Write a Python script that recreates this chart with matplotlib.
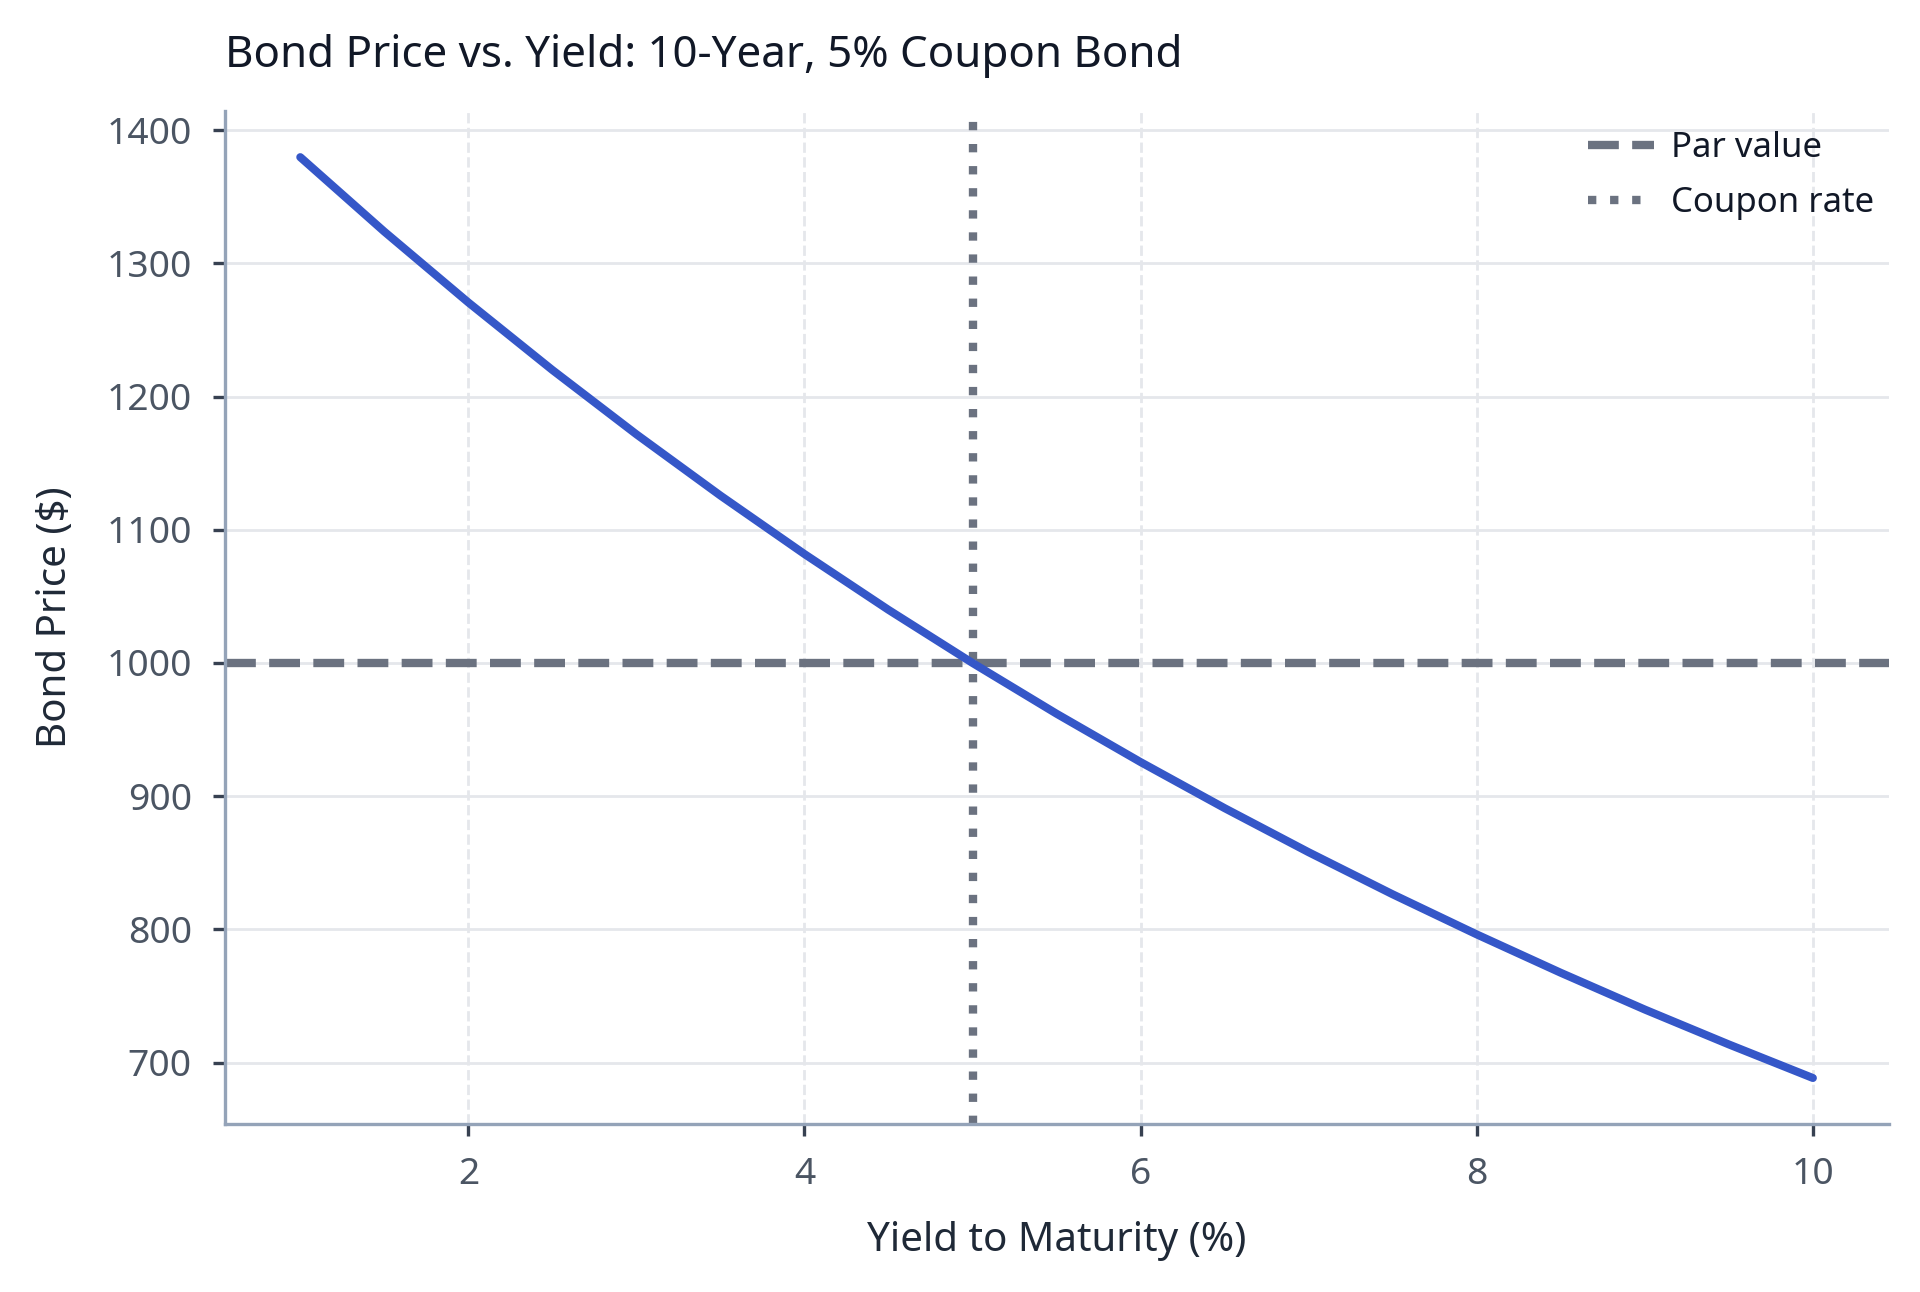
import matplotlib
matplotlib.use("Agg")
import matplotlib.pyplot as plt

plt.rcParams['font.family'] = ['Noto Sans', 'DejaVu Sans']

# Yield to maturity (%) and bond price ($)
yields = [1.0, 1.5, 2.0, 2.5, 3.0, 3.5, 4.0, 4.5, 5.0, 5.5,
          6.0, 6.5, 7.0, 7.5, 8.0, 8.5, 9.0, 9.5, 10.0]
prices = [1379.8, 1323.9, 1270.7, 1220.0, 1171.7, 1125.7, 1081.8, 1039.9, 1000.0, 961.9,
          925.6, 891.0, 857.9, 826.3, 796.2, 767.4, 739.8, 713.6, 688.4]
par_value = 1000
coupon_rate = 5

fig = plt.figure(figsize=(9.6, 6.46), dpi=200)
ax = fig.add_axes([0.117, 0.130, 0.8666, 0.784])

ax.plot(yields, prices, color='#3557c8', lw=2.9, solid_capstyle='round', zorder=3)
ax.axhline(par_value, color='#6b7280', lw=3, ls='--', label='Par value', zorder=2)
ax.axvline(coupon_rate, color='#6b7280', lw=3, ls=':', label='Coupon rate', zorder=2)

ax.grid(axis='y', color='#e5e7eb', lw=1, ls='-')
ax.grid(axis='x', color='#e5e7eb', lw=1, ls='--')
ax.set_axisbelow(True)

for s in ['top', 'right']:
    ax.spines[s].set_visible(False)
for s in ['left', 'bottom']:
    ax.spines[s].set_color('#94a3b8')
    ax.spines[s].set_linewidth(1.2)

ax.tick_params(colors='#374151', labelcolor='#4b5563', labelsize=13.4,
               length=4.3, width=1.2, pad=7.5)
ax.set_xticks([2, 4, 6, 8, 10])
ax.set_yticks([700, 800, 900, 1000, 1100, 1200, 1300, 1400])

ax.set_xlabel('Yield to Maturity (%)', fontsize=14.5, color='#1f2937', labelpad=10)
ax.set_ylabel('Bond Price ($)', fontsize=14.5, color='#1f2937', labelpad=11)
ax.set_title('Bond Price vs. Yield: 10-Year, 5% Coupon Bond', fontsize=15.8,
             color='#111827', loc='left', pad=16)

ax.legend(loc='upper right', bbox_to_anchor=(1.0, 0.994), frameon=False,
          fontsize=12.5, handlelength=1.9, handletextpad=0.5, labelspacing=0.6,
          borderaxespad=0.0, labelcolor='#111827')

fig.savefig('out.png', dpi=200, facecolor='white')
